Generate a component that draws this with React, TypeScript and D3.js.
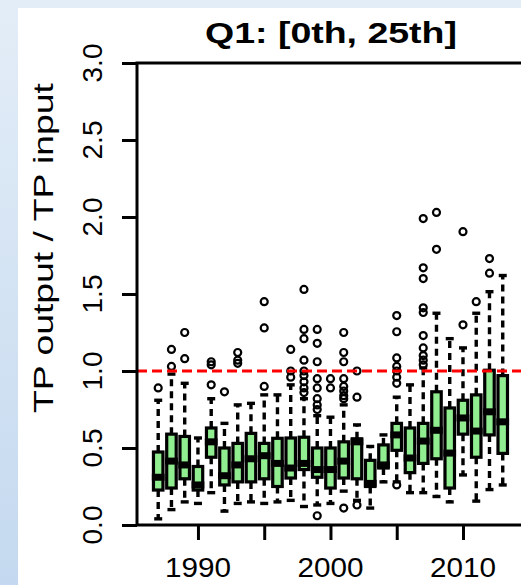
import * as d3 from "d3";
import { useEffect, useRef } from "react";

// one box per year
const years = [
  1987, 1988, 1989, 1990, 1991, 1992, 1993, 1994, 1995, 1996, 1997, 1998, 1999, 2000,
  2001, 2002, 2003, 2004, 2005, 2006, 2007, 2008, 2009, 2010, 2011, 2012, 2013,
];
const lowWhisker = [
  0.04, 0.1, 0.15, 0.14, 0.21, 0.09, 0.14, 0.15, 0.14, 0.15, 0.16, 0.12, 0.13, 0.14,
  0.22, 0.16, 0.11, 0.28, 0.28, 0.21, 0.21, 0.185, 0.15, 0.325, 0.155, 0.23, 0.26,
];
const lowerQuartile = [
  0.227, 0.24, 0.3, 0.227, 0.44, 0.26, 0.28, 0.28, 0.3, 0.25, 0.305, 0.36, 0.31, 0.24,
  0.305, 0.3, 0.25, 0.37, 0.485, 0.34, 0.4, 0.43, 0.24, 0.59, 0.44, 0.585, 0.465,
];
const medians = [
  0.31, 0.415, 0.39, 0.26, 0.54, 0.32, 0.39, 0.43, 0.45, 0.4, 0.37, 0.4, 0.36, 0.36,
  0.415, 0.54, 0.27, 0.39, 0.585, 0.435, 0.545, 0.615, 0.467, 0.695, 0.61, 0.735, 0.67,
];
const upperQuartile = [
  0.474, 0.59, 0.575, 0.38, 0.63, 0.5, 0.53, 0.595, 0.53, 0.563, 0.565, 0.57, 0.5, 0.5,
  0.54, 0.56, 0.42, 0.52, 0.66, 0.63, 0.66, 0.865, 0.76, 0.81, 0.845, 1.005, 0.97,
];
const highWhisker = [
  0.81, 0.98, 0.92, 0.565, 0.82, 0.66, 0.78, 0.79, 0.845, 0.845, 0.91, 0.82, 0.71, 0.7,
  0.78, 0.65, 0.51, 0.585, 0.83, 0.91, 1.02, 1.375, 1.21, 1.15, 1.375, 1.515, 1.62,
];
const outliers = [
  [0.89],
  [1.03, 1.14],
  [1.08, 1.25],
  [],
  [0.91, 1.04, 1.06],
  [0.865],
  [1.05, 1.07, 1.12],
  [],
  [0.9, 1.28, 1.45],
  [],
  [0.96, 1.0, 1.14],
  [0.86, 0.89, 0.93, 0.97, 1.0, 1.07, 1.21, 1.27, 1.53],
  [0.06, 0.75, 0.78, 0.82, 0.89, 0.95, 1.06, 1.18, 1.27],
  [0.89, 0.95],
  [0.11, 0.82, 0.84, 0.87, 0.9, 0.95, 1.06, 1.12, 1.25],
  [0.13, 0.83, 1.0],
  [],
  [],
  [0.26, 0.92, 0.96, 1.0, 1.03, 1.085, 1.255, 1.36],
  [],
  [1.04, 1.07, 1.1, 1.15, 1.23, 1.38, 1.41, 1.6, 1.67, 1.99],
  [1.79, 2.03],
  [],
  [1.3, 1.905],
  [1.45],
  [1.635, 1.73],
  [],
];
const yTicks = [0, 0.5, 1, 1.5, 2, 2.5, 3];
const xTicks = [1990, 1995, 2000, 2005, 2010];
const xLabels = [1990, 2000, 2010];

const W = 521;
const H = 585;
const FONT = "'Liberation Sans', Arial, sans-serif";

export default function App() {
  const svgRef = useRef(null);

  useEffect(() => {
    const svg = d3.select(svgRef.current);
    svg.selectAll("*").remove();

    // slide-like background
    const defs = svg.append("defs");
    const grad = defs
      .append("linearGradient")
      .attr("id", "edge")
      .attr("x1", 0)
      .attr("y1", 0)
      .attr("x2", 0)
      .attr("y2", 1);
    grad.append("stop").attr("offset", "0%").attr("stop-color", "#e3edf7");
    grad.append("stop").attr("offset", "100%").attr("stop-color", "#c4d9ef");
    svg.append("rect").attr("width", W).attr("height", H).attr("fill", "url(#edge)");
    svg.append("rect").attr("x", 18).attr("y", 8).attr("width", W - 18).attr("height", H - 8).attr("fill", "#fff");

    const x = d3.scaleLinear().domain([1985.4, 2014.68]).range([137, 525]);
    const y = d3.scaleLinear().domain([0, 3]).range([525, 63]);

    const rows = years.map((yr, i) => ({
      year: yr,
      lw: lowWhisker[i],
      q1: lowerQuartile[i],
      med: medians[i],
      q3: upperQuartile[i],
      hw: highWhisker[i],
      out: outliers[i],
    }));

    const bw = 9.5;
    const g = svg.append("g");

    // whiskers
    g.selectAll(".wu")
      .data(rows)
      .join("line")
      .attr("x1", (d) => x(d.year))
      .attr("x2", (d) => x(d.year))
      .attr("y1", (d) => y(d.q3))
      .attr("y2", (d) => y(d.hw))
      .attr("stroke", "#000")
      .attr("stroke-width", 3.4)
      .attr("stroke-dasharray", "7 5");
    g.selectAll(".wl")
      .data(rows)
      .join("line")
      .attr("x1", (d) => x(d.year))
      .attr("x2", (d) => x(d.year))
      .attr("y1", (d) => y(d.q1))
      .attr("y2", (d) => y(d.lw))
      .attr("stroke", "#000")
      .attr("stroke-width", 3.4)
      .attr("stroke-dasharray", "7 5");

    // staples
    ["hw", "lw"].forEach((k) => {
      g.append("g")
        .selectAll("line")
        .data(rows)
        .join("line")
        .attr("x1", (d) => x(d.year) - 4)
        .attr("x2", (d) => x(d.year) + 4)
        .attr("y1", (d) => y(d[k]))
        .attr("y2", (d) => y(d[k]))
        .attr("stroke", "#000")
        .attr("stroke-width", 3.4);
    });

    // boxes
    g.append("g")
      .selectAll("rect")
      .data(rows)
      .join("rect")
      .attr("x", (d) => x(d.year) - bw / 2)
      .attr("y", (d) => y(d.q3))
      .attr("width", bw)
      .attr("height", (d) => y(d.q1) - y(d.q3))
      .attr("fill", "#90ee90")
      .attr("stroke", "#000")
      .attr("stroke-width", 3.2);

    // medians
    g.append("g")
      .selectAll("line")
      .data(rows)
      .join("line")
      .attr("x1", (d) => x(d.year) - bw / 2 - 1.6)
      .attr("x2", (d) => x(d.year) + bw / 2 + 1.6)
      .attr("y1", (d) => y(d.med))
      .attr("y2", (d) => y(d.med))
      .attr("stroke", "#000")
      .attr("stroke-width", 7);

    // outliers
    g.append("g")
      .selectAll("circle")
      .data(rows.flatMap((d) => d.out.map((v) => ({ year: d.year, v }))))
      .join("circle")
      .attr("cx", (d) => x(d.year))
      .attr("cy", (d) => y(d.v))
      .attr("r", 3.5)
      .attr("fill", "none")
      .attr("stroke", "#000")
      .attr("stroke-width", 2.2);

    // reference line at 1
    svg.append("line")
      .attr("x1", 137)
      .attr("x2", W)
      .attr("y1", y(1))
      .attr("y2", y(1))
      .attr("stroke", "#ff0000")
      .attr("stroke-width", 3)
      .attr("stroke-dasharray", "10 5");

    // frame
    svg.append("rect")
      .attr("x", 137)
      .attr("y", 63)
      .attr("width", 525 - 137)
      .attr("height", 525 - 63)
      .attr("fill", "none")
      .attr("stroke", "#000")
      .attr("stroke-width", 3);

    // y axis
    const yAxis = d3.axisLeft(y).tickValues(yTicks).tickSize(15).tickSizeOuter(0).tickFormat(() => "");
    const ya = svg.append("g").attr("transform", "translate(137,0)").call(yAxis);
    ya.select(".domain").remove();
    ya.selectAll("line").attr("stroke-width", 3);
    svg.append("g")
      .selectAll("text")
      .data(yTicks)
      .join("text")
      .attr("transform", (d) => `translate(102,${y(d)}) rotate(-90)`)
      .attr("text-anchor", "middle")
      .attr("font-family", FONT)
      .attr("font-size", 28)
      .text((d) => d3.format(".1f")(d));

    // x axis
    const xAxis = d3.axisBottom(x).tickValues(xTicks).tickSize(15).tickSizeOuter(0).tickFormat(() => "");
    const xa = svg.append("g").attr("transform", "translate(0,525)").call(xAxis);
    xa.select(".domain").remove();
    xa.selectAll("line").attr("stroke-width", 3);
    svg.append("g")
      .selectAll("text")
      .data(xLabels)
      .join("text")
      .attr("x", (d) => x(d))
      .attr("y", 577)
      .attr("text-anchor", "middle")
      .attr("font-family", FONT)
      .attr("font-size", 28)
      .attr("textLength", 66)
      .attr("lengthAdjust", "spacingAndGlyphs")
      .text((d) => d);

    // titles
    svg.append("text")
      .attr("x", 331)
      .attr("y", 43)
      .attr("text-anchor", "middle")
      .attr("font-family", FONT)
      .attr("font-weight", "bold")
      .attr("font-size", 29)
      .attr("textLength", 252)
      .attr("lengthAdjust", "spacingAndGlyphs")
      .text("Q1: [0th, 25th]");
    svg.append("text")
      .attr("transform", "translate(53,248) rotate(-90)")
      .attr("text-anchor", "middle")
      .attr("font-family", FONT)
      .attr("font-size", 28)
      .attr("textLength", 330)
      .attr("lengthAdjust", "spacingAndGlyphs")
      .text("TP output / TP input");
  }, []);

  return (
    <svg
      ref={svgRef}
      width={W}
      height={H}
      style={{ position: "fixed", left: 0, top: 0, display: "block" }}
    />
  );
}
